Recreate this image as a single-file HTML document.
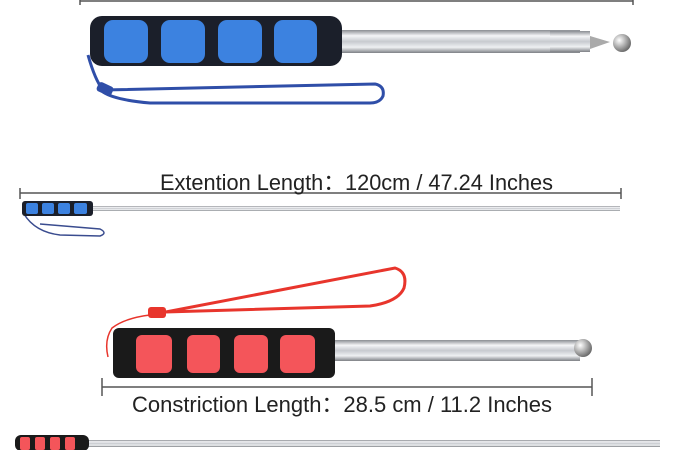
<!DOCTYPE html>
<html><head><meta charset="utf-8"><style>
html,body{margin:0;padding:0;background:#fff;width:700px;height:450px;overflow:hidden}
</style></head><body>
<svg width="700" height="450" viewBox="0 0 700 450" xmlns="http://www.w3.org/2000/svg">
<defs>
<linearGradient id="rod" x1="0" y1="0" x2="0" y2="1">
<stop offset="0" stop-color="#8a8d92"/><stop offset="0.25" stop-color="#f4f5f7"/><stop offset="0.5" stop-color="#c7cacf"/><stop offset="0.75" stop-color="#eef0f2"/><stop offset="1" stop-color="#7d8085"/>
</linearGradient>
<radialGradient id="ball" cx="0.35" cy="0.35" r="0.7"><stop offset="0" stop-color="#fff"/><stop offset="1" stop-color="#666"/></radialGradient>
</defs>
<g stroke="#555" stroke-width="1.5" fill="none">
<line x1="80" y1="1" x2="633" y2="1"/><line x1="80" y1="-4" x2="80" y2="5"/><line x1="633" y1="-4" x2="633" y2="5"/>
<line x1="20" y1="193" x2="621" y2="193"/><line x1="20" y1="188" x2="20" y2="199"/><line x1="621" y1="188" x2="621" y2="199"/>
<line x1="102" y1="387" x2="592" y2="387"/><line x1="102" y1="378" x2="102" y2="396"/><line x1="592" y1="378" x2="592" y2="396"/>
</g>
<!-- top blue -->
<path d="M88 55 Q95 80 103 90 L375 84 Q385 86 383 96 Q380 103 370 103 L150 103 Q115 100 103 92" fill="none" stroke="#2f4ea8" stroke-width="3"/>
<rect x="97" y="84" width="16" height="10" rx="3" fill="#2f4ea8" transform="rotate(25 105 89)"/>
<rect x="340" y="30" width="240" height="23" fill="url(#rod)"/>
<rect x="550" y="31" width="40" height="21" fill="url(#rod)"/>
<path d="M590 36 L610 42 L590 49Z" fill="#aaa"/>
<circle cx="622" cy="43" r="9" fill="url(#ball)"/>
<rect x="90" y="16" width="252" height="50" rx="12" fill="#1b1f2a"/>
<g fill="#3c82e0"><rect x="104" y="20" width="44" height="43" rx="9"/><rect x="161" y="20" width="44" height="43" rx="9"/><rect x="218" y="20" width="44" height="43" rx="9"/><rect x="274" y="20" width="43" height="43" rx="9"/></g>
<text x="160" y="190" font-family="Liberation Sans, Noto Sans CJK SC, sans-serif" font-size="22" fill="#222" textLength="393" lengthAdjust="spacingAndGlyphs">Extention Length：120cm / 47.24 Inches</text>
<!-- small blue -->
<path d="M24 214 Q35 232 60 235 L100 236 Q108 233 100 229 L40 224" fill="none" stroke="#3a4c8f" stroke-width="1.5"/>
<rect x="92" y="206" width="528" height="5" fill="url(#rod)"/>
<rect x="22" y="201" width="71" height="15" rx="3" fill="#1b1f2a"/>
<g fill="#3c82e0"><rect x="26" y="203" width="12" height="11" rx="2"/><rect x="42" y="203" width="12" height="11" rx="2"/><rect x="58" y="203" width="12" height="11" rx="2"/><rect x="74" y="203" width="13" height="11" rx="2"/></g>
<!-- red -->
<path d="M108 357 Q104 340 112 328 Q125 318 150 315" fill="none" stroke="#e8352c" stroke-width="1.5"/>
<path d="M150 315 L395 268 Q408 272 404 288 Q398 302 370 306 L165 312" fill="none" stroke="#e8352c" stroke-width="3"/>
<rect x="148" y="307" width="18" height="11" rx="3" fill="#e8352c"/>
<rect x="335" y="340" width="245" height="21" fill="url(#rod)"/>
<circle cx="583" cy="348" r="9" fill="url(#ball)"/>
<rect x="113" y="328" width="222" height="50" rx="6" fill="#1a1a1a"/>
<g fill="#f4555a"><rect x="136" y="335" width="36" height="38" rx="6"/><rect x="187" y="335" width="33" height="38" rx="6"/><rect x="234" y="335" width="34" height="38" rx="6"/><rect x="280" y="335" width="35" height="38" rx="6"/></g>
<text x="132" y="412" font-family="Liberation Sans, Noto Sans CJK SC, sans-serif" font-size="22" fill="#222" textLength="420" lengthAdjust="spacingAndGlyphs">Constriction Length：28.5 cm / 11.2 Inches</text>
<!-- bottom red -->
<rect x="88" y="440" width="572" height="7" fill="url(#rod)"/>
<rect x="15" y="435" width="74" height="16" rx="6" fill="#1a1a1a"/>
<g fill="#f4555a"><rect x="20" y="437" width="10" height="13" rx="2"/><rect x="35" y="437" width="10" height="13" rx="2"/><rect x="50" y="437" width="10" height="13" rx="2"/><rect x="65" y="437" width="10" height="13" rx="2"/></g>
</svg>
</body></html>
